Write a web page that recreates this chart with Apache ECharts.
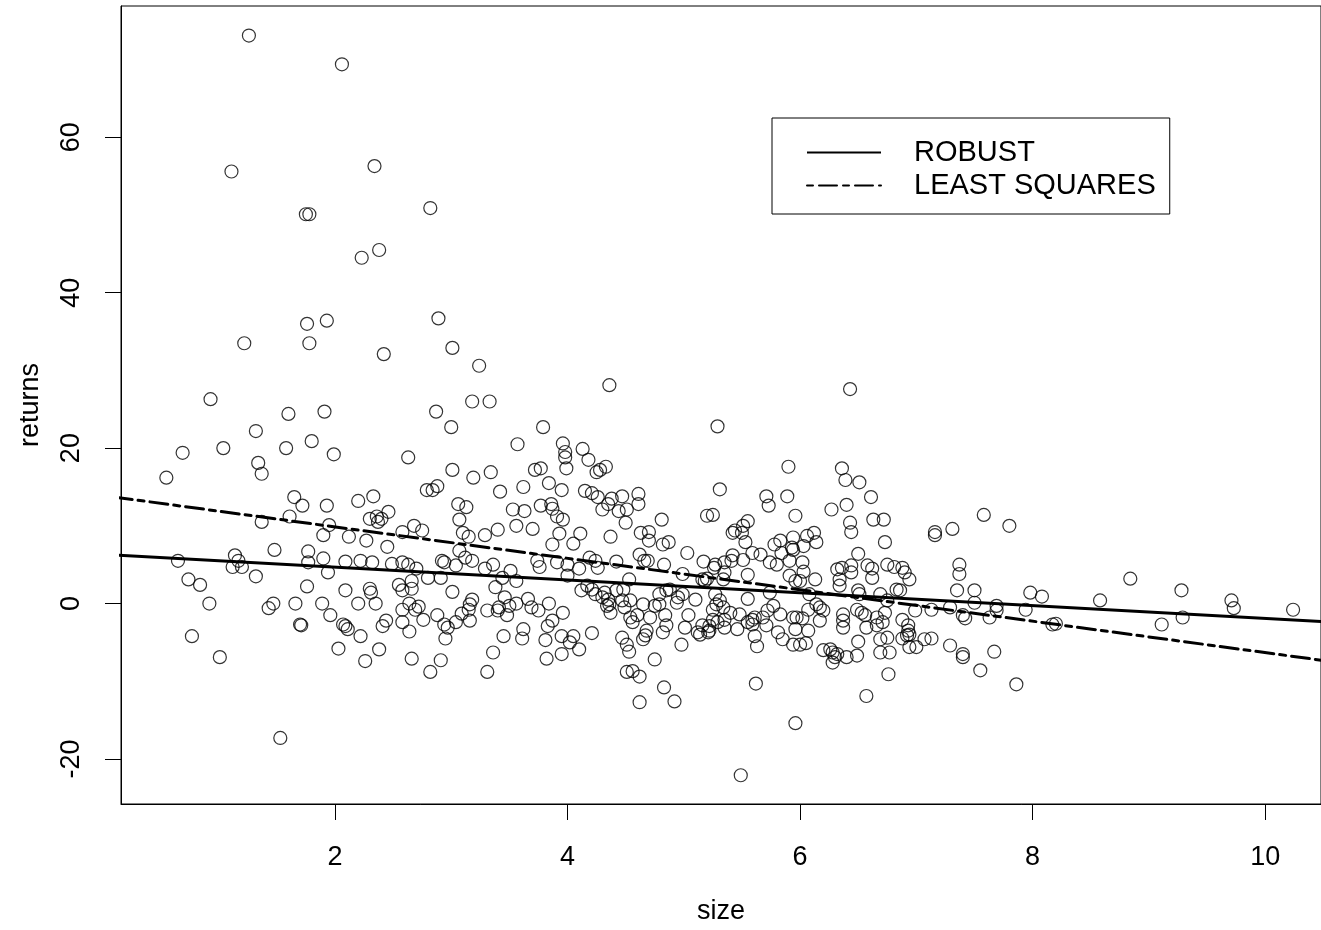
<!DOCTYPE html>
<html>
<head>
<meta charset="utf-8">
<title>returns vs size</title>
<script src="https://cdn.jsdelivr.net/npm/echarts@6/dist/echarts.min.js"></script>
<style>
  html, body { margin: 0; padding: 0; background: #fff; }
  #chart { width: 1321px; height: 930px; }
</style>
</head>
<body>
<div id="chart"></div>
<script>
// Tick positions on both axes
const xTicks = [2, 4, 6, 8, 10];
const yTicks = [-20, 0, 20, 40, 60];

// Fitted lines, given by their values at size = 0 and size = 11
const robustFit = [[0, 6.32], [11, -2.73]];
const leastSquaresFit = [[0, 13.91], [11, -8.34]];

// Observations: [size, returns]
const smallFirms = [
  [1.26,73.1],[2.06,69.4],[1.11,55.6],[2.34,56.3],[1.75,50.1],[1.78,50.1],[2.82,50.9],[2.23,44.5],[2.38,45.5],[1.76,36.0],
  [1.93,36.4],[2.89,36.7],[1.22,33.5],[1.78,33.5],[2.42,32.1],[3.01,32.9],[3.24,30.6],
  [0.93,26.3],[1.60,24.4],[1.91,24.7],[1.32,22.2],[1.80,20.9],[0.69,19.4],[1.04,20.0],[1.58,20.0],[1.99,19.2],[2.63,18.8],
  [1.34,18.1],[1.37,16.7],[0.55,16.2],[2.79,14.6],[1.65,13.7],[1.72,12.6],[1.93,12.6],[2.20,13.2],[2.33,13.8],[2.46,11.8],
  [2.30,10.9],[2.36,11.2],[2.37,10.5],[2.40,10.9],[1.61,11.2],[1.37,10.5],[1.95,10.1],[1.90,8.8],[2.12,8.6],[2.27,8.1],
  [2.45,7.3],[2.58,9.2],[2.68,10.0],[2.75,9.4],[1.48,6.9],[1.77,6.7],[0.65,5.5],[1.14,6.2],[1.17,5.5],[1.12,4.7],[1.20,4.7],
  [1.77,5.3],[1.90,5.8],[1.94,4.0],[2.09,5.4],[2.22,5.5],[2.32,5.3],[2.49,5.1],[2.58,5.3],[2.63,5.0],[2.70,4.5],[2.80,3.3],
  [1.32,3.5],[0.74,3.1],[0.84,2.4],[1.76,2.2],[2.09,1.7],[2.30,1.9],[2.31,1.4],[2.55,2.4],[2.58,1.7],[2.66,2.9],[2.66,1.9],
  [0.92,0.0],[1.43,-0.6],[1.47,0.0],[1.66,0.0],[1.89,0.0],[1.96,-1.5],[2.20,0.0],[2.35,0.0],[2.07,-2.7],[2.09,-2.9],
  [2.11,-3.3],[1.70,-2.7],[1.71,-2.8],[2.22,-4.2],[2.41,-2.9],[2.44,-2.2],[2.58,-2.4],[2.64,-3.6],[2.58,-0.8],[2.64,0.0],
  [2.69,-0.8],[2.72,-0.4],[2.76,-2.1],[0.77,-4.2],[1.01,-6.9],[2.03,-5.8],[2.38,-5.9],[2.26,-7.4],[2.66,-7.1],[2.82,-8.8],
  [1.53,-17.3]
];

const midFirms = [
  [4.36,28.1],[3.18,26.0],[3.33,26.0],[2.87,24.7],[3.00,22.7],[3.79,22.7],[5.29,22.8],[3.57,20.5],[3.96,20.6],[3.98,19.5],
  [3.98,18.8],[3.99,17.4],[4.13,19.9],[4.18,18.5],[3.72,17.2],[3.77,17.4],[4.25,16.9],[4.28,17.2],[4.33,17.6],[3.01,17.2],
  [3.19,16.2],[3.34,16.9],[2.84,14.6],[2.88,15.1],[3.42,14.4],[3.62,15.0],[3.84,15.5],[3.95,14.6],[4.15,14.5],[4.21,14.2],
  [4.26,13.7],[4.38,13.5],[4.35,12.8],[4.30,12.1],[4.47,13.8],[4.61,14.1],[4.61,12.8],[4.44,11.9],[4.51,12.1],[4.50,10.4],
  [3.06,12.8],[3.13,12.4],[3.07,10.8],[3.53,12.1],[3.63,11.9],[3.77,12.6],[3.86,12.8],[3.87,12.2],[3.91,11.2],[3.96,10.8],
  [3.56,10.0],[3.70,9.6],[3.40,9.5],[3.29,8.8],[3.10,9.1],[3.15,8.6],[3.93,9.0],[4.11,9.0],[4.05,7.7],[3.87,7.6],
  [4.37,8.6],[4.63,9.1],[4.70,9.2],[4.70,8.1],[4.81,10.8],[4.82,7.6],[4.87,7.9],[5.20,11.3],[5.25,11.4],[5.03,6.5],[3.07,6.8],
  [3.12,5.9],[3.18,5.5],[2.92,5.5],[2.94,5.3],[3.04,4.9],[3.29,4.5],[3.36,5.0],[3.44,3.3],[3.51,4.2],[3.56,2.9],
  [3.74,5.5],[3.76,4.7],[3.91,5.3],[4.00,5.0],[4.00,3.6],[4.10,4.5],[4.19,5.9],[4.24,5.5],[4.26,4.6],[4.42,5.4],
  [4.53,3.1],[4.62,6.3],[4.66,5.5],[4.69,5.5],[4.83,5.0],[4.99,3.8],[5.17,5.4],[5.26,4.6],[5.16,3.1],[5.18,2.9],[5.20,3.2],[2.91,3.3],
  [3.01,1.5],[3.38,2.1],[3.46,0.8],[3.50,-0.3],[3.56,0.0],[3.41,-0.5],[3.40,-0.9],[3.48,-1.5],[3.31,-0.9],[3.18,0.5],
  [3.16,-0.1],[3.15,-0.8],[3.09,-1.3],[3.16,-2.2],[3.04,-2.4],[2.88,-1.5],[2.94,-2.7],[2.97,-3.1],[2.95,-4.5],[3.66,0.6],
  [3.69,-0.5],[3.75,-0.9],[3.84,0.0],[3.96,-1.2],[3.87,-2.2],[3.83,-2.9],[3.62,-3.3],[3.61,-4.5],[3.45,-4.2],[3.81,-4.7],
  [3.95,-4.2],[4.02,-5.0],[4.05,-4.2],[4.10,-5.9],[3.95,-6.5],[3.82,-7.1],[4.21,-3.8],[3.36,-6.3],[2.91,-7.3],[3.31,-8.8],
  [4.12,1.7],[4.17,2.3],[4.21,1.8],[4.24,1.2],[4.30,0.8],[4.32,1.4],[4.35,0.5],[4.36,-0.1],[4.37,-1.2],[4.34,-0.3],
  [4.42,1.7],[4.48,1.8],[4.47,0.4],[4.49,-0.5],[4.54,0.4],[4.54,-1.8],[4.56,-2.4],[4.60,-1.5],[4.65,-0.1],[4.71,-1.8],
  [4.75,-0.3],[4.79,-0.1],[4.84,-1.5],[4.79,1.2],[4.85,1.7],[4.88,1.8],[4.94,0.1],[4.95,0.8],[4.99,1.2],[5.10,0.5],
  [5.04,-1.5],[5.16,-2.8],[5.22,-2.9],[5.21,-3.7],[5.25,-0.8],[5.01,-3.1],[4.85,-2.8],[4.82,-3.7],[4.68,-3.5],[4.67,-4.1],
  [4.65,-4.6],[4.47,-4.4],[4.51,-5.3],[4.53,-6.2],[4.98,-5.3],[5.12,-3.7],[5.14,-4.0],[4.75,-7.2],[4.51,-8.8],[4.56,-8.7],
  [4.62,-9.4],[4.83,-10.8],[4.62,-12.7],[4.92,-12.6]
];

const largeFirms = [
  [6.43,27.6],[5.90,17.6],[6.36,17.4],[6.39,15.9],[6.51,15.6],[5.31,14.7],[5.71,13.8],[5.73,12.6],[5.89,13.8],[6.61,13.7],
  [6.40,12.7],[6.27,12.1],[5.96,11.3],[6.43,10.4],[6.44,9.2],[6.63,10.8],[6.72,10.8],[6.73,7.9],[5.55,10.6],[5.51,10.0],
  [5.44,9.4],[5.42,9.1],[5.50,9.1],[5.53,7.9],[5.78,7.6],[5.83,8.1],[5.94,8.5],[5.93,7.2],[6.06,8.7],[6.12,9.1],
  [6.14,7.9],[6.03,7.4],[7.16,9.2],[7.16,8.8],[7.31,9.6],[7.58,11.4],[7.80,10.0],[5.42,6.2],[5.51,5.6],[5.59,6.5],
  [5.66,6.3],[5.84,6.5],[6.50,6.4],
  [5.27,5.0],[5.35,5.3],[5.41,5.5],[5.35,4.0],[5.34,3.1],[5.55,3.7],[5.74,5.3],[5.80,5.0],[5.91,5.5],[6.02,5.3],
  [6.03,4.1],[5.94,6.9],[5.91,3.6],[5.96,2.9],[6.00,2.9],[6.13,3.1],[6.32,4.4],[6.36,4.6],[6.34,3.1],[6.34,2.3],
  [6.44,4.9],[6.44,4.0],[6.58,4.9],[6.62,4.5],[6.62,3.3],[6.75,5.0],[6.81,4.7],[6.88,4.6],[6.90,4.0],[6.94,3.1],
  [7.37,5.0],[7.37,3.8],
  [5.27,1.2],[5.28,-0.1],[5.31,0.4],[5.34,-0.5],[5.40,-1.2],[5.35,-2.1],[5.29,-2.4],[5.25,-2.1],[5.22,-3.5],[5.35,-3.1],
  [5.46,-3.3],[5.48,-1.4],[5.55,0.6],[5.55,-2.4],[5.59,-2.1],[5.61,-1.8],[5.59,-2.7],[5.68,-1.8],[5.71,-2.8],[5.72,-0.9],
  [5.77,-0.3],[5.83,-1.4],[5.61,-4.2],[5.63,-5.5],[5.74,1.4],[5.81,-3.7],[5.85,-4.6],[5.94,-1.8],[5.97,-1.8],[6.02,-1.9],
  [5.96,-3.3],[5.94,-5.3],[6.00,-5.3],[6.05,-5.1],[6.07,-3.5],[6.07,-0.8],[6.08,1.2],[6.14,-0.1],[6.17,-0.5],[6.20,-0.9],
  [6.17,-2.2],[6.20,-6.0],[6.26,-5.9],[6.28,-6.3],[6.30,-6.9],[6.32,-6.5],[6.28,-7.6],[6.40,-6.9],[6.49,-6.7],[6.50,-4.9],
  [6.37,-1.4],[6.37,-2.2],[6.37,-3.1],[6.49,-0.8],[6.53,-1.2],[6.56,-1.5],[6.57,-3.1],[6.50,1.7],[6.51,1.2],[6.69,1.2],
  [6.75,0.4],[6.66,-1.8],[6.73,-1.2],[6.71,-2.4],[6.66,-2.8],[6.69,-4.6],[6.75,-4.4],[6.69,-6.3],[6.77,-6.3],[6.76,-9.1],
  [6.57,-11.9],[6.83,1.8],[6.86,1.7],[6.88,-2.1],[6.93,-2.8],[6.93,-3.5],[6.92,-4.1],[6.88,-4.5],[6.94,-4.0],[6.94,-5.6],
  [7.00,-5.6],[6.99,-0.9],[7.07,-4.6],[7.13,-4.5],[7.13,-0.8],[7.29,-0.5],[7.35,1.7],[7.50,1.7],[7.50,0.1],[7.40,-1.5],
  [7.42,-1.9],[7.63,-1.8],[7.69,-0.3],[7.69,-0.9],[7.29,-5.4],[7.40,-6.5],[7.40,-6.9],[7.67,-6.2],[7.55,-8.6],[5.62,-10.3],
  [5.96,-15.4],[5.49,-22.1],
  [7.98,1.4],[8.08,0.9],[7.94,-0.8],[8.17,-2.7],[8.20,-2.6],[8.58,0.4],[8.84,3.2],[9.11,-2.7],[9.28,1.7],[9.29,-1.8],
  [9.71,0.4],[9.73,-0.6],[10.24,-0.8],[7.86,-10.4]
];

const observations = smallFirms.concat(midFirms, largeFirms);

const FONT = '"Liberation Sans", Arial, Helvetica, sans-serif';
const TEXT = { fontFamily: FONT, fontSize: 27, color: '#000' };
const LEGEND_TEXT = { fontFamily: FONT, fontSize: 29, color: '#000' };
const AXIS_LINE = { show: true, onZero: false, lineStyle: { color: '#000', width: 1 } };

const chart = echarts.init(document.getElementById('chart'), null, { renderer: 'canvas' });

chart.setOption({
  animation: false,
  backgroundColor: '#fff',
  color: ['#000', '#000', '#000'],
  grid: {
    left: 121, right: -1, top: 6, bottom: 123,
    show: true, borderColor: '#000', borderWidth: 1, backgroundColor: 'transparent'
  },
  xAxis: {
    type: 'value',
    min: 0.16, max: 10.48,
    name: 'size',
    nameLocation: 'middle',
    nameGap: 94,
    nameTextStyle: TEXT,
    axisLine: AXIS_LINE,
    axisTick: { show: true, inside: false, customValues: xTicks, length: 16, lineStyle: { color: '#000', width: 1 } },
    axisLabel: { customValues: xTicks, margin: 40, ...TEXT },
    splitLine: { show: false }
  },
  yAxis: {
    type: 'value',
    min: -25.8, max: 76.9,
    name: 'returns',
    nameLocation: 'middle',
    nameGap: 77,
    nameRotate: 90,
    nameTextStyle: TEXT,
    axisLine: AXIS_LINE,
    axisTick: { show: true, inside: false, customValues: yTicks, length: 16, lineStyle: { color: '#000', width: 1 } },
    axisLabel: { customValues: yTicks, rotate: 90, margin: 36, ...TEXT },
    splitLine: { show: false }
  },
  legend: {
    orient: 'vertical',
    left: 772, top: 118,
    data: ['ROBUST', 'LEAST SQUARES'],
    itemWidth: 74, itemHeight: 14, itemGap: 4,
    padding: [20, 14, 14, 34],
    borderColor: '#000', borderWidth: 1, borderRadius: 0,
    backgroundColor: '#fff',
    selectedMode: false,
    itemStyle: { color: 'rgba(0,0,0,0)', borderWidth: 0 },
    textStyle: { ...LEGEND_TEXT, padding: [0, 0, 0, 28] }
  },
  series: [
    {
      name: 'returns',
      type: 'scatter',
      data: observations,
      symbol: 'circle',
      symbolSize: 13,
      progressive: 0,
      itemStyle: { color: 'rgba(0,0,0,0)', borderColor: '#000', borderWidth: 1.2 },
      z: 2
    },
    {
      name: 'ROBUST',
      type: 'line',
      data: robustFit,
      symbol: 'none',
      clip: true,
      lineStyle: { color: '#000', width: 3 },
      z: 3
    },
    {
      name: 'LEAST SQUARES',
      type: 'line',
      data: leastSquaresFit,
      symbol: 'none',
      clip: true,
      lineStyle: { color: '#000', width: 3, type: [6, 6, 18, 6], cap: 'round' },
      z: 3
    }
  ]
});
</script>
</body>
</html>
